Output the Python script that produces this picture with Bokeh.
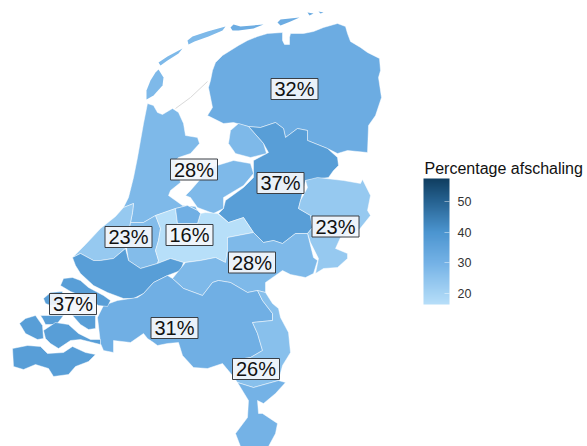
from bokeh.plotting import figure
from bokeh.models import ColumnDataSource, LinearColorMapper, ColorBar, FixedTicker, Range1d
from bokeh.core.properties import value
from bokeh.embed import file_html
from bokeh.resources import INLINE

# Region outlines in map units, region shares and labels
friesland_gr_dr = [(208,87),(210,80),(212,70),(215,62),(222,55),(230,50),(238,45),(247,40),(257,36),(267,33),(282,32),(282,40),(284,44),(289,44),(289,37),(290,33),(303,33),(313,31),(323,27),(337,23),(345,26),(347,33),(350,41),(360,47),(367,52),(379,58),(380,70),(378,77),(381,97),(375,115),(368,125),(367,152),(347,150),(337,153),(327,148),(307,140),(307,130),(297,128),(285,137),(283,128),(275,122),(260,127),(248,126),(233,122),(223,123),(207,115),(212,107)]
central_east = [(248,126),(260,127),(275,122),(283,128),(285,137),(297,128),(307,130),(307,140),(327,148),(337,157),(338,165),(333,170),(328,177),(305,180),(300,200),(298,208),(310,215),(312,227),(307,233),(295,233),(282,243),(273,240),(263,242),(253,232),(243,217),(228,222),(218,213),(223,208),(225,200),(243,187),(253,177),(253,160),(268,152),(263,143)]
flevo_north = [(238,123),(248,126),(263,143),(266,153),(250,157),(235,153),(228,143),(230,130)]
flevo_south = [(185,195),(190,190),(210,167),(233,160),(250,163),(253,173),(243,185),(223,197),(223,208),(213,213),(197,207),(190,197)]
twente = [(305,180),(317,177),(343,180),(360,183),(362,179),(370,195),(367,210),(370,215),(358,230),(340,237),(335,248),(347,253),(347,258),(337,267),(323,268),(315,273),(318,258),(310,242),(307,233),(312,227),(310,215),(298,208),(300,200),(307,187)]
north_holland = [(147,103),(153,105),(157,112),(162,114),(172,108),(178,112),(183,123),(185,135),(197,137),(199,143),(190,153),(178,157),(175,160),(180,182),(170,190),(168,195),(175,200),(182,205),(195,206),(197,210),(187,205),(175,208),(155,215),(143,222),(130,222),(132,212),(133,203),(123,207),(128,197),(133,177),(137,157),(140,140),(143,123)]
coast_south = [(123,207),(133,203),(132,212),(130,222),(128,235),(126,247),(113,258),(100,260),(93,260),(80,253),(72,257),(85,244),(100,228),(115,216)]
green_heart = [(130,222),(143,222),(155,215),(160,228),(158,240),(155,250),(158,260),(157,263),(140,268),(128,260),(126,247),(128,235)]
utrecht = [(155,215),(175,208),(177,223),(197,223),(200,213),(205,212),(217,213),(228,222),(243,217),(253,232),(227,237),(227,250),(225,262),(215,257),(200,260),(183,262),(170,258),(157,263),(158,260),(155,250),(158,240),(160,228)]
gooi = [(175,208),(187,205),(197,210),(200,213),(197,223),(177,223)]
rijnmond = [(72,257),(80,253),(93,260),(100,260),(113,258),(125,248),(128,260),(140,268),(157,263),(170,258),(183,262),(180,270),(167,275),(153,282),(143,293),(133,298),(123,298),(107,292),(93,285),(80,273),(75,265)]
rivers_east = [(172,278),(185,262),(200,260),(215,257),(225,262),(227,250),(227,237),(253,232),(263,242),(273,240),(282,243),(295,233),(307,233),(313,257),(317,260),(313,273),(305,277),(290,274),(282,270),(275,275),(265,282),(265,292),(257,290),(247,292),(230,282),(218,280),(212,282),(202,295),(183,288)]
brabant = [(137,297),(143,293),(153,282),(167,275),(172,278),(183,288),(202,295),(212,282),(218,280),(230,282),(247,292),(257,290),(262,300),(272,313),(272,320),(252,322),(257,333),(262,350),(250,357),(232,360),(232,375),(222,363),(207,368),(193,367),(182,355),(178,342),(167,343),(157,345),(153,342),(147,338),(143,333),(130,342),(113,340),(113,352),(103,350),(100,343),(97,317),(103,305),(117,300)]
limburg_north = [(265,292),(272,303),(278,308),(280,317),(288,332),(290,352),(282,365),(278,380),(253,387),(237,382),(232,375),(232,360),(250,357),(262,350),(257,333),(252,322),(272,320),(272,313),(262,300),(257,290)]
limburg_south = [(237,382),(253,387),(278,380),(285,382),(275,393),(263,403),(257,400),(258,413),(262,413),(277,423),(275,433),(268,446),(240,446),(235,433),(247,417),(248,400)]
schouwen = [(63,278),(72,277),(80,280),(88,287),(103,295),(110,300),(107,306),(98,305),(85,297),(70,291),(60,285)]
goeree = [(43,298),(50,292),(62,291),(62,303),(50,305),(45,303)]
beveland_n = [(40,315),(63,315),(56,324),(45,324),(42,318)]
tholen = [(72,315),(95,315),(95,328),(88,329),(80,324)]
walcheren = [(19,323),(25,318),(35,315),(42,325),(43,338),(37,339),(25,333)]
beveland_z = [(43,330),(55,322),(68,324),(78,333),(90,339),(100,339),(100,344),(80,339),(70,340),(58,348),(50,343),(45,338)]
zvl = [(12,348),(27,345),(40,346),(47,353),(63,352),(72,346),(85,352),(95,354),(88,361),(75,366),(68,374),(53,376),(48,368),(35,364),(23,369),(13,366)]
texel = [(158,69),(163,77),(162,85),(153,95),(146,99),(146,90),(150,80),(155,72)]
vlieland = [(158,62),(167,56),(182,48),(178,53),(167,60),(160,65)]
terschelling = [(187,40),(192,36),(207,31),(225,26),(222,30),(208,36),(194,41),(188,44)]
ameland = [(230,27),(233,24),(240,26),(263,24),(253,28),(238,30),(232,30)]
schier = [(277,22),(280,19),(299,17),(290,21),(280,25)]
rottum_a = [(307,12),(313,13),(309,15)]
rottum_b = [(318,11),(323,12),(320,13)]

region_shapes = [friesland_gr_dr, central_east, flevo_north, flevo_south, twente, north_holland, coast_south, green_heart, utrecht, gooi, rijnmond, rivers_east, brabant, limburg_north, limburg_south, schouwen, goeree, beveland_n, tholen, walcheren, beveland_z, zvl]
region_values = [32, 37, 28, 28, 23, 28, 23, 27, 16, 31, 37, 28, 31, 26, 30, 37, 37, 37, 37, 37, 37, 37]
island_shapes = [texel, vlieland, terschelling, ameland, schier, rottum_a, rottum_b]
island_values = [28, 28, 28, 32, 32, 32, 32]

label_texts = ["32%", "37%", "28%", "23%", "16%", "23%", "28%", "37%", "31%", "26%"]
label_x = [294, 280, 193.5, 335, 189, 128, 251.5, 72.5, 174, 255.5]
label_y = [88.5, 182.5, 169, 226, 234.5, 236.5, 262, 303.5, 327.5, 368.5]

legend_title = "Percentage afschaling"
legend_ticks = [20, 30, 40, 50]
scale_low, scale_high = 16.4, 57.5
scale_stops = [(16.4, (0xB7,0xDF,0xF9)), (30, (0x74,0xB2,0xE6)), (40, (0x4C,0x95,0xD0)), (50, (0x27,0x63,0x92)), (57.5, (0x0F,0x3D,0x5F))]


def scale_colour(v):
    for (a, ca), (b, cb) in zip(scale_stops, scale_stops[1:]):
        if v <= b:
            t = (v - a) / (b - a)
            return "#%02x%02x%02x" % tuple(round(x + (y - x) * t) for x, y in zip(ca, cb))
    return "#0f3d5f"


palette = [scale_colour(scale_low + (scale_high - scale_low) * i / 255) for i in range(256)]
mapper = LinearColorMapper(palette=palette, low=scale_low, high=scale_high)

p = figure(width=587, height=446, output_backend="svg", toolbar_location=None,
           x_range=Range1d(0, 587), y_range=Range1d(446, 0), min_border=0)
p.axis.visible = False
p.grid.visible = False
p.outline_line_color = None
p.background_fill_color = "white"
p.border_fill_color = "white"

# Afsluitdijk
p.line([175, 190, 207], [108, 97, 81], line_color="#d9d9d9", line_width=1)


def draw(shapes, values, **kw):
    src = ColumnDataSource(dict(
        xs=[[c[0] for c in s] for s in shapes],
        ys=[[c[1] for c in s] for s in shapes],
        share=values))
    p.patches("xs", "ys", source=src, fill_color={"field": "share", "transform": mapper}, **kw)


draw(region_shapes, region_values, line_color="#ffffff", line_width=0.6, line_alpha=0.8)
draw(island_shapes, island_values, line_color=None)

lab = ColumnDataSource(dict(x=label_x, y=label_y, t=label_texts))
p.rect("x", "y", width=47, height=21, source=lab, fill_color="#f3f6fb", fill_alpha=0.93,
       line_color="#3a3f45", line_width=1)
p.text("x", "y", text="t", source=lab, text_align="center", text_baseline="middle",
       text_font=value("Liberation Sans"), text_font_size="20px", text_color="#111111")

cb = ColorBar(color_mapper=mapper, ticker=FixedTicker(ticks=legend_ticks),
              location=(423, 142), width=26, height=126, padding=0, margin=0,
              major_label_text_font="Liberation Sans", major_label_text_font_size="12.5px",
              major_label_text_color="#333333", label_standoff=8,
              major_tick_line_color="#ffffff", major_tick_line_alpha=0.45, major_tick_in=5,
              major_tick_out=0, minor_tick_line_color=None, bar_line_color=None,
              background_fill_color=None, border_line_color=None)
p.add_layout(cb, "center")

tick_y = [304 - (t - scale_low) / (scale_high - scale_low) * 126 for t in legend_ticks]
p.segment([423] * 4, tick_y, [428] * 4, tick_y, line_color="#ffffff", line_alpha=0.45, line_width=1)
p.text([424], [168], text=[legend_title], text_font=value("Liberation Sans"),
       text_font_size="16px", text_color="#111111", text_align="left", text_baseline="alphabetic")

open("out.html", "w").write(file_html(p, INLINE))
